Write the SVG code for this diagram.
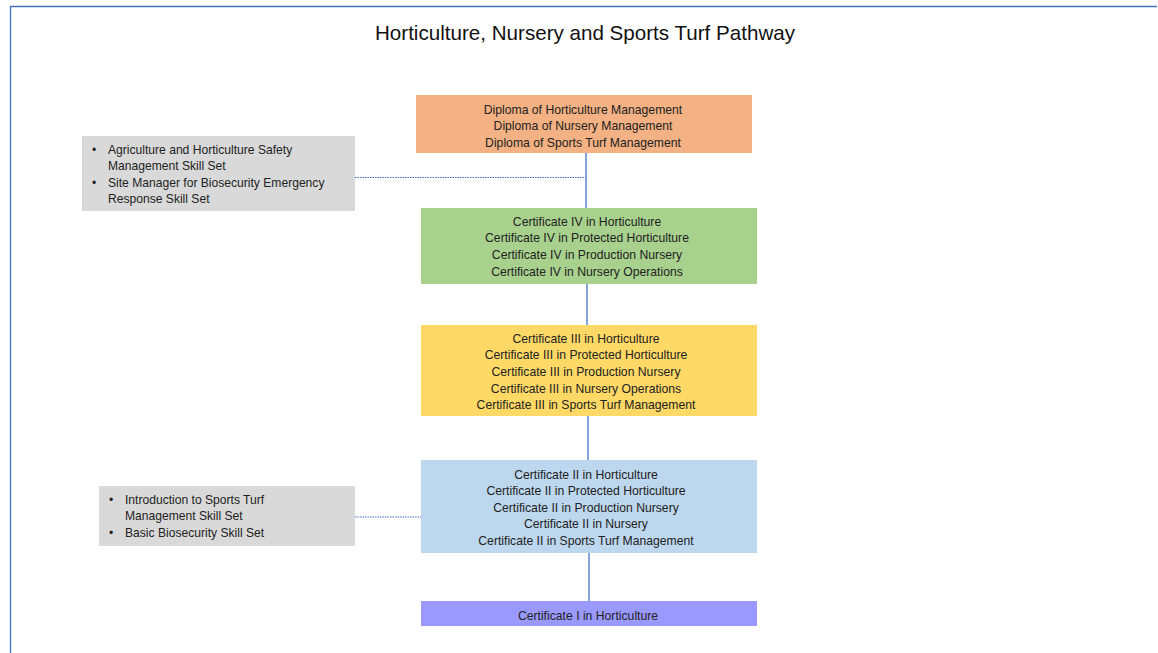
<svg xmlns="http://www.w3.org/2000/svg" width="1158" height="653" viewBox="0 0 1158 653">
<style>
.t{font-family:"Liberation Sans",Arial,sans-serif;font-size:12.2px;fill:#222;text-anchor:middle}
.l{font-family:"Liberation Sans",Arial,sans-serif;font-size:12.1px;fill:#222}
.title{font-family:"Liberation Sans",Arial,sans-serif;font-size:20.6px;fill:#111;text-anchor:middle}
.solid{stroke:#4472C4;stroke-width:1.3;fill:none}
.dot{stroke:#4472C4;stroke-width:1;stroke-dasharray:1.5 1;fill:none}
</style>
<rect width="1158" height="653" fill="#fff"/>
<path d="M10.5 653 V6.5 H1157" stroke="#4472C4" stroke-width="1.3" fill="none"/>
<text class="title" x="585" y="40">Horticulture, Nursery and Sports Turf Pathway</text>
<g id="connectors">
<path class="solid" d="M586 153 V208"/>
<path class="solid" d="M587 284 V325"/>
<path class="solid" d="M588 416 V460"/>
<path class="solid" d="M589 553 V601"/>
<path class="dot" d="M355 177.5 H586"/>
<path class="dot" d="M355 517 H421"/>
</g>
<g id="diploma">
<rect x="416" y="95" width="336" height="58" fill="#F4B183"/>
<text class="t" x="583" y="113.5">Diploma of Horticulture Management</text>
<text class="t" x="583" y="130">Diploma of Nursery Management</text>
<text class="t" x="583" y="146.5">Diploma of Sports Turf Management</text>
</g>
<g id="cert4">
<rect x="421" y="208" width="336" height="76" fill="#A9D18E"/>
<text class="t" x="587" y="225.5">Certificate IV in Horticulture</text>
<text class="t" x="587" y="242.2">Certificate IV in Protected Horticulture</text>
<text class="t" x="587" y="258.9">Certificate IV in Production Nursery</text>
<text class="t" x="587" y="275.6">Certificate IV in Nursery Operations</text>
</g>
<g id="cert3">
<rect x="421" y="325" width="336" height="91" fill="#FFD966"/>
<text class="t" x="586" y="342.5">Certificate III in Horticulture</text>
<text class="t" x="586" y="359.2">Certificate III in Protected Horticulture</text>
<text class="t" x="586" y="375.9">Certificate III in Production Nursery</text>
<text class="t" x="586" y="392.6">Certificate III in Nursery Operations</text>
<text class="t" x="586" y="409.3">Certificate III in Sports Turf Management</text>
</g>
<g id="cert2">
<rect x="421" y="460" width="336" height="93" fill="#BDD7EE"/>
<text class="t" x="586" y="478.5">Certificate II in Horticulture</text>
<text class="t" x="586" y="495">Certificate II in Protected Horticulture</text>
<text class="t" x="586" y="511.5">Certificate II in Production Nursery</text>
<text class="t" x="586" y="528">Certificate II in Nursery</text>
<text class="t" x="586" y="544.5">Certificate II in Sports Turf Management</text>
</g>
<g id="cert1">
<rect x="421" y="601" width="336" height="25" fill="#9999FF"/>
<text class="t" x="588" y="619.5">Certificate I in Horticulture</text>
</g>
<g id="skills1">
<rect x="82" y="136" width="273" height="75" fill="#D9D9D9"/>
<text class="l" x="92" y="153.5">•</text>
<text class="l" x="108" y="153.5">Agriculture and Horticulture Safety</text>
<text class="l" x="108" y="170">Management Skill Set</text>
<text class="l" x="92" y="186.5">•</text>
<text class="l" x="108" y="186.5">Site Manager for Biosecurity Emergency</text>
<text class="l" x="108" y="203">Response Skill Set</text>
</g>
<g id="skills2">
<rect x="99" y="486" width="256" height="60" fill="#D9D9D9"/>
<text class="l" x="109" y="503.5">•</text>
<text class="l" x="125" y="503.5">Introduction to Sports Turf</text>
<text class="l" x="125" y="520">Management Skill Set</text>
<text class="l" x="109" y="536.5">•</text>
<text class="l" x="125" y="536.5">Basic Biosecurity Skill Set</text>
</g>
</svg>
